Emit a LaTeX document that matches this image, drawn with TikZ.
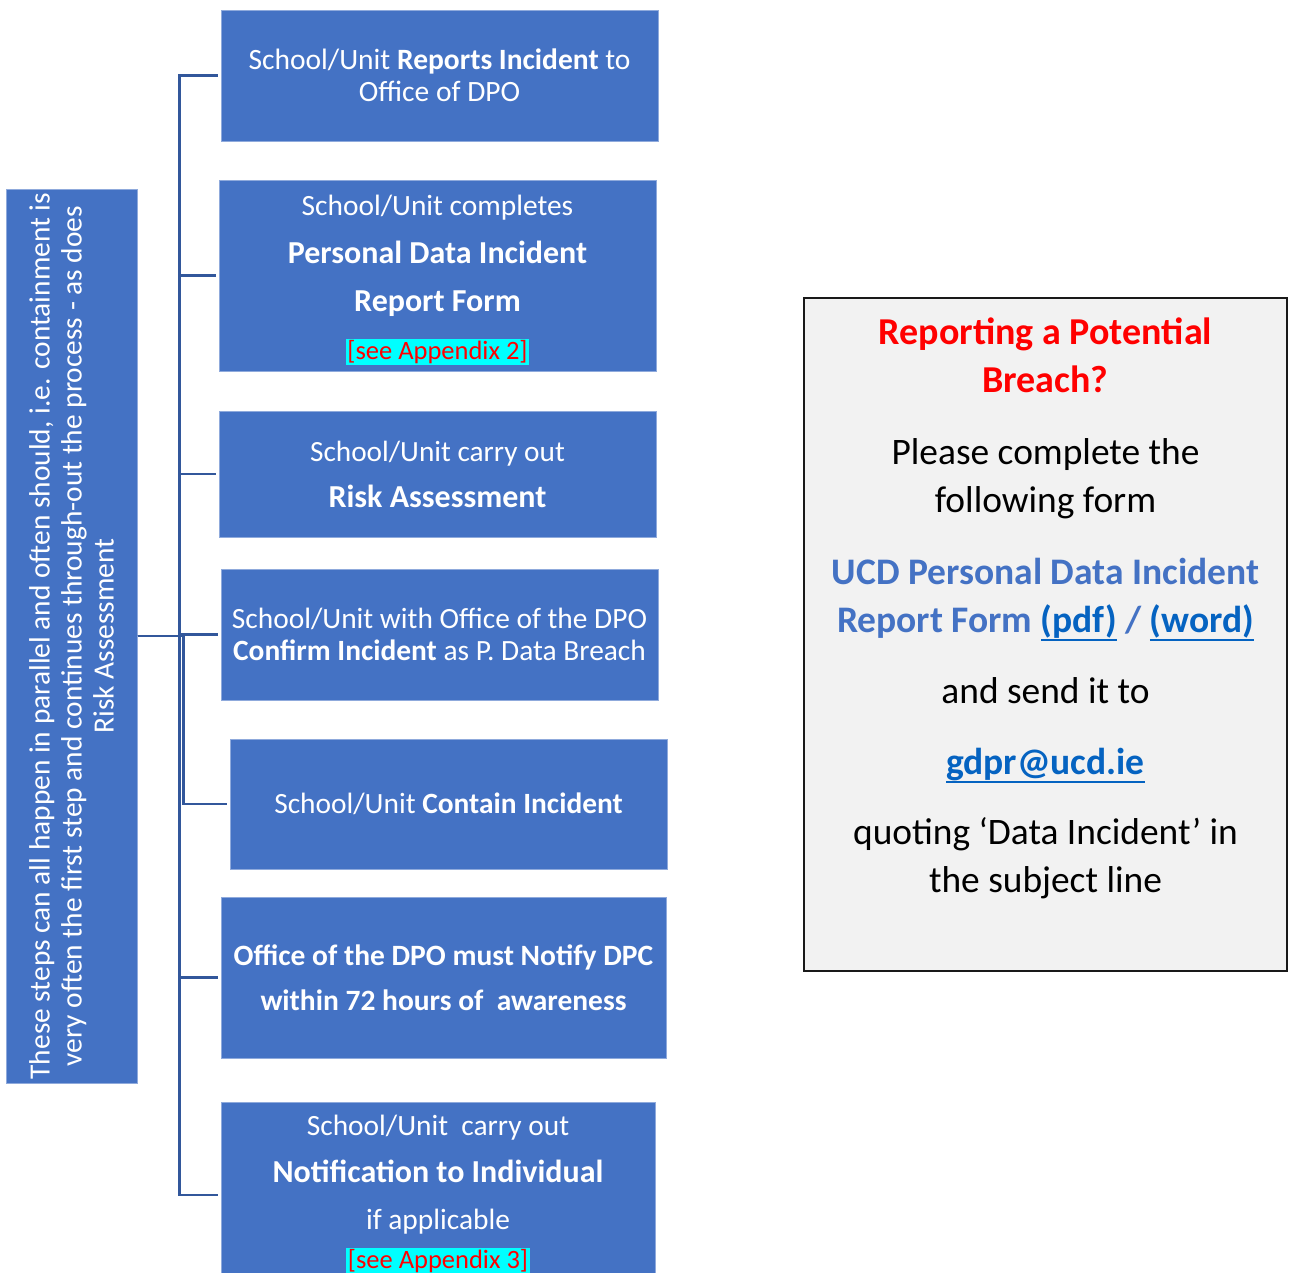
\documentclass[tikz,border=0pt]{standalone}
\usepackage{fontspec}
\setmainfont{Carlito}
\definecolor{boxblue}{RGB}{68,114,196}
\definecolor{boxedge}{RGB}{143,170,220}
\definecolor{connblue}{RGB}{50,87,155}
\definecolor{linkblue}{RGB}{5,99,193}
\definecolor{panelgray}{RGB}{242,242,242}
\definecolor{hired}{RGB}{255,0,0}
\definecolor{hicyan}{RGB}{0,255,255}
\newcommand{\hilite}[1]{{\setlength{\fboxsep}{1.5pt}\colorbox{hicyan}{\textcolor{hired}{#1}}}}
\newcommand{\myul}[1]{\leavevmode\setbox0\hbox{#1}\rlap{\rule[-8.5pt]{\wd0}{2.6pt}}\box0}
\tikzset{
  stepbox/.style={rectangle, fill=boxblue, draw=boxedge, line width=1pt, text=white, align=center, inner sep=0pt},
  conn/.style={draw=connblue, line width=2.5pt, shorten >=2.5pt},
  panel/.style={rectangle, fill=panelgray, draw=black!90, line width=2pt},
}
\begin{document}
\begin{tikzpicture}[x=1pt,y=-1pt]
\useasboundingbox (0,0) rectangle (1292,1272);

% left note box
\node[stepbox, minimum width=131, minimum height=894] (L) at (71.5,636) {};
\node[rotate=90, text=white, align=center, inner sep=0pt, font=\fontsize{29.4}{32}\selectfont] (Lt) at (L.center)
 {These steps can all happen in parallel and often should, i.e. containment is\\
  very often the first step and continues through-out the process - as does\\
  Risk Assessment};

% step boxes
\node[stepbox, minimum width=437, minimum height=131, font=\fontsize{29.5}{32}\selectfont] (b1) at (439.5,75.5)
 {School/Unit \textbf{Reports Incident} to\\Office of DPO};
\node[stepbox, minimum width=437, minimum height=191, font=\fontsize{29.4}{48}\selectfont] (b2) at (437.5,275.5)
 {\rule{0pt}{30pt}School/Unit completes\\
  {\fontsize{32}{48}\selectfont\bfseries Personal Data Incident}\\
  {\fontsize{32}{48}\selectfont\bfseries Report Form}\\
  {\fontsize{26.5}{48}\selectfont\hilite{[see Appendix 2]}}};
\node[stepbox, minimum width=437, minimum height=126, font=\fontsize{29.3}{46}\selectfont] (b3) at (437.5,474)
 {School/Unit carry out\\{\fontsize{32}{46}\selectfont\bfseries Risk Assessment}};
\node[stepbox, minimum width=437, minimum height=131, font=\fontsize{29.4}{32}\selectfont] (b4) at (439.5,634.5)
 {School/Unit with Office of the DPO\\\textbf{Confirm Incident} as P. Data Breach};
\node[stepbox, minimum width=437, minimum height=130, font=\fontsize{29.4}{32}\selectfont] (b5) at (448.5,804)
 {School/Unit \textbf{Contain Incident}};
\node[stepbox, minimum width=445, minimum height=161, font=\fontsize{29.5}{45}\selectfont\bfseries] (b6) at (443.5,977.5)
 {Office of the DPO must Notify DPC\\within 72 hours of\ \ awareness};
\node[stepbox, minimum width=434, minimum height=186, font=\fontsize{29.4}{47}\selectfont] (b7) at (438,1195)
 {School/Unit\ \ carry out\\
  {\fontsize{32}{47}\selectfont\bfseries Notification to Individual}\\
  if applicable\\[-8pt]
  {\fontsize{26.5}{47}\selectfont\hilite{[see Appendix 3]}}};

% connectors
\draw[conn] (L.east) -- ++(42,0) |- (b1.west);
\draw[conn] (L.east) -- ++(42,0) |- (b2.west);
\draw[conn] (L.east) -- ++(42,0) |- (b3.west);
\draw[conn] (L.east) -- ++(42,0) |- (b4.west);
\draw[conn] (L.east) -- ++(46,0) |- (b5.west);
\draw[conn] (L.east) -- ++(42,0) |- (b6.west);
\draw[conn] (L.east) -- ++(42,0) |- (b7.west);

% right panel
\node[panel, minimum width=483, minimum height=673] (R) at (1045.5,634.5) {};
\node[anchor=north, align=center, inner sep=0pt, font=\fontsize{37.4}{48}\selectfont] (Rt) at (1045.5,318)
 {{\fontsize{38}{48}\selectfont\bfseries\color{hired}Reporting a Potential}\\
  {\fontsize{38}{48}\selectfont\bfseries\color{hired}Breach?}\\[24pt]
  Please complete the\\
  following form\\[24pt]
  {\fontsize{37.5}{48}\selectfont\bfseries\color{boxblue}UCD Personal Data Incident}\\
  {\fontsize{37.5}{48}\selectfont\bfseries\color{boxblue}Report Form \textcolor{linkblue}{\myul{(pdf)}} / \textcolor{linkblue}{\myul{(word)}}}\\[23pt]
  and send it to\\[23pt]
  {\fontsize{37.5}{48}\selectfont\bfseries\color{linkblue}\myul{gdpr@ucd.ie}}\\[22pt]
  quoting ‘Data Incident’ in\\
  the subject line};
\end{tikzpicture}
\end{document}
